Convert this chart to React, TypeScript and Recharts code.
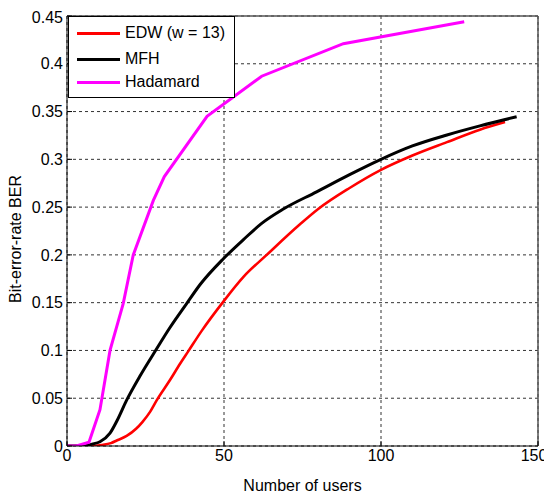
import React from "react";
import { LineChart, Line, XAxis, YAxis, CartesianGrid, ReferenceLine } from "recharts";

const edwUsers = [0, 5, 8, 11, 14, 16, 19, 22, 24, 26.5, 28.6, 32.8, 36, 38.6, 43, 49.3, 56.2, 63.6, 74.2, 80, 90, 100, 110, 121, 131.5, 139.5];
const edwBer = [0, 0, 0, 0.001, 0.003, 0.006, 0.0105, 0.018, 0.025, 0.036, 0.048, 0.069, 0.086, 0.099, 0.121, 0.149, 0.177, 0.2, 0.232, 0.248, 0.27, 0.289, 0.304, 0.318, 0.331, 0.339];

const mfhUsers = [0, 5, 8, 10.5, 13.7, 16, 19, 23.2, 28.6, 32.8, 38.1, 42.4, 49.8, 56.2, 62, 68.9, 79.5, 90, 100, 110, 121, 131.5, 143.2];
const mfhBer = [0, 0, 0.002, 0.0045, 0.0135, 0.027, 0.048, 0.073, 0.102, 0.124, 0.149, 0.169, 0.196, 0.216, 0.233, 0.248, 0.266, 0.284, 0.3, 0.314, 0.3255, 0.335, 0.3446];

const hadUsers = [0, 3, 7, 10.5, 13.7, 17.9, 21.1, 27.5, 31, 44.6, 62, 88, 126.5];
const hadBer = [0, 0, 0.004, 0.038, 0.1, 0.149, 0.2, 0.257, 0.282, 0.345, 0.387, 0.421, 0.444];

const xTicks = [0, 50, 100, 150];
const yTicks = [0, 0.05, 0.1, 0.15, 0.2, 0.25, 0.3, 0.35, 0.4, 0.45];
const yTickLabels = ["0", "0.05", "0.1", "0.15", "0.2", "0.25", "0.3", "0.35", "0.4", "0.45"];

const seriesNames = ["EDW (w = 13)", "MFH", "Hadamard"];
const seriesColors = ["#ff0000", "#000000", "#ff00ff"];

const toPoints = (xs: number[], ys: number[]) => xs.map((x, i) => ({ x, y: ys[i] }));

const series = [
  { name: seriesNames[0], color: seriesColors[0], data: toPoints(edwUsers, edwBer), width: 2.6, curve: "monotone" },
  { name: seriesNames[1], color: seriesColors[1], data: toPoints(mfhUsers, mfhBer), width: 3, curve: "monotone" },
  { name: seriesNames[2], color: seriesColors[2], data: toPoints(hadUsers, hadBer), width: 3, curve: "linear" },
];

const FONT = "'Liberation Sans', Arial, sans-serif";

const LegendBox = () => (
  <div
    style={{
      position: "absolute",
      left: 60,
      top: 8,
      width: 167,
      height: 82,
      border: "1px solid #000",
      background: "#fff",
      fontFamily: FONT,
      fontSize: 16,
      color: "#000",
      boxSizing: "border-box",
    }}
  >
    {series.map((s, i) => (
      <div
        key={s.name}
        style={{ position: "absolute", left: 8, top: [6, 32, 55][i], height: 20, display: "flex", alignItems: "center", whiteSpace: "nowrap" }}
      >
        <div style={{ width: 43, height: 3, background: s.color }} />
        <span style={{ marginLeft: 5 }}>{s.name}</span>
      </div>
    ))}
  </div>
);

const YLabel = () => (
  <text
    x={7}
    y={231}
    transform="rotate(-90 7 231)"
    textAnchor="middle"
    dominantBaseline="central"
    fill="#000"
    fontSize={16}
    fontFamily={FONT}
  >
    Bit-error-rate BER
  </text>
);

const XTick = (props: any) => {
  const { x, y, payload, index } = props;
  const shift = index === xTicks.length - 1 ? -4 : 0;
  return (
    <text x={x + shift} y={y} dy="0.71em" textAnchor="middle" fill="#000" fontSize={16} fontFamily={FONT}>
      {payload.value}
    </text>
  );
};

export default function App() {
  return (
    <div style={{ position: "relative", width: 544, height: 489 }}>
      <LineChart width={544} height={489} margin={{ top: 8, right: 14, left: 9, bottom: 21 }}>
        <CartesianGrid stroke="#333" strokeDasharray="3 3" strokeWidth={1} />
        <XAxis
          type="number"
          dataKey="x"
          domain={[0, 150]}
          ticks={xTicks}
          allowDataOverflow
          height={30}
          stroke="#000"
          tickSize={-5}
          tickMargin={9}
          tick={<XTick />}
          label={{ value: "Number of users", position: "bottom", offset: 4, fill: "#000", fontSize: 16, fontFamily: FONT }}
        />
        <YAxis
          type="number"
          dataKey="y"
          domain={[0, 0.45]}
          ticks={yTicks}
          allowDataOverflow
          width={50}
          stroke="#000"
          tickSize={-5}
          tickMargin={9}
          tickFormatter={(v: number) => yTickLabels[yTicks.indexOf(v)] ?? String(v)}
          tick={{ fill: "#000", fontSize: 16, fontFamily: FONT }}
          label={{ content: () => <YLabel /> }}
        />
        <ReferenceLine y={0.45} stroke="#555" strokeWidth={1.5} />
        <ReferenceLine x={150} stroke="#555" strokeWidth={1.5} />
        {series.map((s) => (
          <Line
            key={s.name}
            data={s.data}
            dataKey="y"
            name={s.name}
            type={s.curve as any}
            stroke={s.color}
            strokeWidth={s.width}
            dot={false}
            isAnimationActive={false}
          />
        ))}
      </LineChart>
      <LegendBox />
    </div>
  );
}
